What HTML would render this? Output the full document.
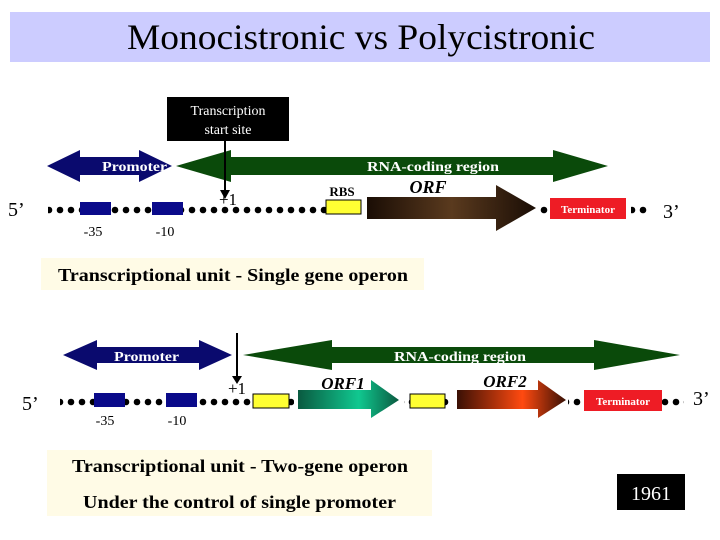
<!DOCTYPE html>
<html><head><style>
body{margin:0;background:#fff;}
svg{display:block;font-family:"Liberation Serif",serif;}
</style></head><body>
<svg width="720" height="540" viewBox="0 0 720 540" xmlns="http://www.w3.org/2000/svg">
<defs>
<linearGradient id="brown" x1="0" x2="1"><stop offset="0" stop-color="#1a0d05"/><stop offset="0.5" stop-color="#5a3a1e"/><stop offset="1" stop-color="#1a0d05"/></linearGradient>
<linearGradient id="teal" x1="0" x2="1"><stop offset="0" stop-color="#0a5a40"/><stop offset="0.6" stop-color="#10c890"/><stop offset="1" stop-color="#0a5a40"/></linearGradient>
<linearGradient id="orange" x1="0" x2="1"><stop offset="0" stop-color="#3a1005"/><stop offset="0.6" stop-color="#ff4a10"/><stop offset="1" stop-color="#3a1005"/></linearGradient>
<pattern id="dots" width="11" height="12" patternUnits="userSpaceOnUse"><circle cx="5" cy="6" r="3.3" fill="#000"/></pattern>
</defs>
<rect x="10" y="12" width="700" height="50" fill="#ccccff"/>
<text x="127" y="49" font-size="36" textLength="468" lengthAdjust="spacingAndGlyphs">Monocistronic vs Polycistronic</text>

<rect x="167" y="97" width="122" height="44" fill="#000"/>
<text x="228" y="115" text-anchor="middle" font-size="14" fill="#fff">Transcription</text>
<text x="228" y="134" text-anchor="middle" font-size="14" fill="#fff">start site</text>

<polygon points="47,166 80,150 80,157 139,157 139,150 172,166 139,182 139,175 80,175 80,182" fill="#0a0a6e"/>
<text x="102" y="171" font-size="14" font-weight="bold" fill="#fff" textLength="65" lengthAdjust="spacingAndGlyphs">Promoter</text>
<polygon points="176,166 231,150 231,157 553,157 553,150 608,166 553,182 553,175 231,175 231,182" fill="#0a4a0a"/>
<text x="367" y="171" font-size="14" font-weight="bold" fill="#fff" textLength="132" lengthAdjust="spacingAndGlyphs">RNA-coding region</text>
<line x1="225" y1="141" x2="225" y2="192" stroke="#000" stroke-width="2"/>
<polygon points="220,190 230,190 225,199" fill="#000"/>

<text x="8" y="216" font-size="20">5’</text>
<rect x="48" y="202" width="602" height="12" fill="url(#dots)"/>
<rect x="80" y="202" width="31" height="13" fill="#0a0a8a"/>
<rect x="152" y="202" width="31" height="13" fill="#0a0a8a"/>
<text x="93" y="236" text-anchor="middle" font-size="14">-35</text>
<text x="165" y="236" text-anchor="middle" font-size="14">-10</text>
<text x="228" y="205" text-anchor="middle" font-size="17">+1</text>
<text x="342" y="196" text-anchor="middle" font-size="13" font-weight="bold">RBS</text>
<rect x="326" y="200" width="35" height="14" fill="#ffff33" stroke="#000"/>
<rect x="362" y="196" width="176" height="24" fill="#fff"/>
<polygon points="367,197 496,197 496,185 536,208 496,231 496,219 367,219" fill="url(#brown)"/>
<text x="428" y="193" text-anchor="middle" font-size="18" font-weight="bold" font-style="italic">ORF</text>
<rect x="550" y="198" width="76" height="21" fill="#ee1c25"/>
<text x="588" y="213" text-anchor="middle" font-size="11" font-weight="bold" fill="#fff">Terminator</text>
<rect x="627" y="198" width="4" height="20" fill="#fff"/>
<text x="663" y="218" font-size="20">3’</text>

<rect x="41" y="258" width="383" height="32" fill="#fffbe6"/>
<text x="58" y="281" font-size="18" font-weight="bold" textLength="350" lengthAdjust="spacingAndGlyphs">Transcriptional unit - Single gene operon</text>

<polygon points="63,355 97,340 97,347 199,347 199,340 232,355 199,370 199,363 97,363 97,370" fill="#0a0a6e"/>
<text x="114" y="361" font-size="14" font-weight="bold" fill="#fff" textLength="65" lengthAdjust="spacingAndGlyphs">Promoter</text>
<polygon points="243,355 332,340 332,347 594,347 594,340 680,355 594,370 594,363 332,363 332,370" fill="#0a4a0a"/>
<text x="394" y="361" font-size="14" font-weight="bold" fill="#fff" textLength="132" lengthAdjust="spacingAndGlyphs">RNA-coding region</text>
<line x1="237" y1="333" x2="237" y2="378" stroke="#000" stroke-width="2"/>
<polygon points="232,376 242,376 237,384" fill="#000"/>

<text x="22" y="410" font-size="20">5’</text>
<rect x="60" y="394" width="624" height="12" fill="url(#dots)"/>
<rect x="94" y="393" width="31" height="14" fill="#0a0a8a"/>
<rect x="166" y="393" width="31" height="14" fill="#0a0a8a"/>
<text x="105" y="425" text-anchor="middle" font-size="14">-35</text>
<text x="177" y="425" text-anchor="middle" font-size="14">-10</text>
<text x="237" y="394" text-anchor="middle" font-size="17">+1</text>
<rect x="253" y="394" width="36" height="14" fill="#ffff33" stroke="#000"/>
<rect x="294" y="392" width="110" height="18" fill="#fff"/>
<polygon points="298,390 371,390 371,380 399,400 371,418 371,409 298,409" fill="url(#teal)"/>
<text x="343" y="389" text-anchor="middle" font-size="17" font-weight="bold" font-style="italic">ORF1</text>
<rect x="410" y="394" width="35" height="14" fill="#ffff33" stroke="#000"/>
<rect x="452" y="392" width="116" height="18" fill="#fff"/>
<polygon points="457,390 538,390 538,380 566,400 538,418 538,409 457,409" fill="url(#orange)"/>
<text x="505" y="387" text-anchor="middle" font-size="17" font-weight="bold" font-style="italic">ORF2</text>
<rect x="584" y="390" width="78" height="21" fill="#ee1c25"/>
<text x="623" y="405" text-anchor="middle" font-size="11" font-weight="bold" fill="#fff">Terminator</text>
<text x="693" y="405" font-size="20">3’</text>

<rect x="47" y="450" width="385" height="66" fill="#fffbe6"/>
<text x="72" y="472" font-size="18" font-weight="bold" textLength="336" lengthAdjust="spacingAndGlyphs">Transcriptional unit - Two-gene operon</text>
<text x="83" y="508" font-size="18" font-weight="bold" textLength="313" lengthAdjust="spacingAndGlyphs">Under the control of single promoter</text>

<rect x="617" y="474" width="68" height="36" fill="#000"/>
<text x="651" y="500" text-anchor="middle" font-size="20" fill="#fff">1961</text>
</svg>
</body></html>
